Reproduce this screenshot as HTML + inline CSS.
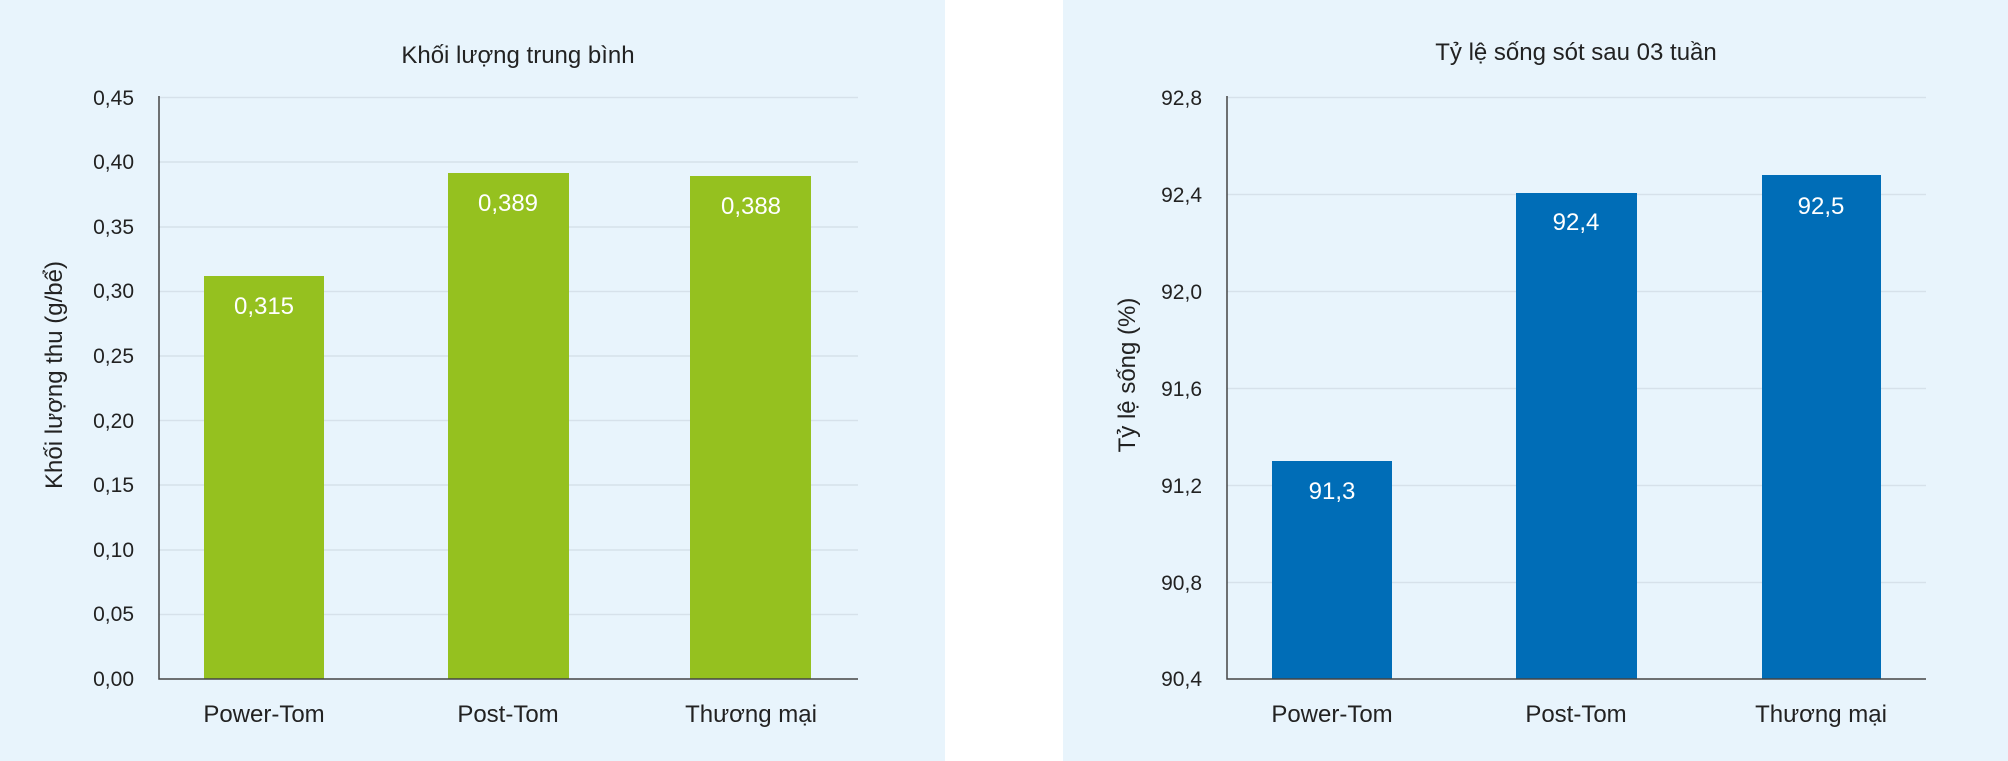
<!DOCTYPE html>
<html><head><meta charset="utf-8"><style>
html,body{margin:0;padding:0;background:#fff;overflow:hidden;}
svg{display:block;font-family:"Liberation Sans",sans-serif;}
</style></head><body>
<svg width="2008" height="761" viewBox="0 0 2008 761">
<rect x="0" y="0" width="945" height="761" fill="#e8f4fc"/>
<rect x="1063" y="0" width="945" height="761" fill="#e8f4fc"/>
<g stroke="#d6e1ea" stroke-width="1.5">
<line x1="159" x2="858" y1="97.5" y2="97.5"/><line x1="159" x2="858" y1="162" y2="162"/>
<line x1="159" x2="858" y1="227" y2="227"/><line x1="159" x2="858" y1="291.5" y2="291.5"/>
<line x1="159" x2="858" y1="356" y2="356"/><line x1="159" x2="858" y1="420.5" y2="420.5"/>
<line x1="159" x2="858" y1="485" y2="485"/><line x1="159" x2="858" y1="550" y2="550"/>
<line x1="159" x2="858" y1="614.5" y2="614.5"/>
<line x1="1227" x2="1926" y1="97.5" y2="97.5"/><line x1="1227" x2="1926" y1="194.5" y2="194.5"/>
<line x1="1227" x2="1926" y1="291.5" y2="291.5"/><line x1="1227" x2="1926" y1="388.5" y2="388.5"/>
<line x1="1227" x2="1926" y1="485.5" y2="485.5"/><line x1="1227" x2="1926" y1="582.5" y2="582.5"/>
</g>
<g fill="#95c11f">
<rect x="204" y="276" width="120" height="403"/>
<rect x="448" y="173" width="121" height="506"/>
<rect x="690" y="176" width="121" height="503"/>
</g>
<g fill="#006db7">
<rect x="1272" y="461" width="120" height="218"/>
<rect x="1516" y="193" width="121" height="486"/>
<rect x="1762" y="175" width="119" height="504"/>
</g>
<g stroke="#444" stroke-width="1.5" fill="none">
<path d="M159 96V679H858"/>
<path d="M1227 96V679H1926"/>
</g>
<g font-size="21" fill="#222" text-anchor="end">
<text x="134" y="105">0,45</text><text x="134" y="169">0,40</text><text x="134" y="234">0,35</text>
<text x="134" y="298">0,30</text><text x="134" y="363">0,25</text><text x="134" y="428">0,20</text>
<text x="134" y="492">0,15</text><text x="134" y="557">0,10</text><text x="134" y="621">0,05</text>
<text x="134" y="686">0,00</text>
<text x="1202" y="105">92,8</text><text x="1202" y="202">92,4</text><text x="1202" y="299">92,0</text>
<text x="1202" y="396">91,6</text><text x="1202" y="493">91,2</text><text x="1202" y="590">90,8</text>
<text x="1202" y="686">90,4</text>
</g>
<g font-size="24" fill="#222" text-anchor="middle">
<text x="518" y="63">Khối lượng trung bình</text>
<text x="1576" y="60">Tỷ lệ sống sót sau 03 tuần</text>
<text x="264" y="722">Power-Tom</text><text x="508" y="722">Post-Tom</text><text x="751" y="722">Thương mại</text>
<text x="1332" y="722">Power-Tom</text><text x="1576" y="722">Post-Tom</text><text x="1821" y="722">Thương mại</text>
<text transform="translate(62,375) rotate(-90)">Khối lượng thu (g/bể)</text>
<text transform="translate(1135,375) rotate(-90)">Tỷ lệ sống (%)</text>
</g>
<g font-size="24" fill="#fff" text-anchor="middle">
<text x="264" y="314">0,315</text><text x="508" y="211">0,389</text><text x="751" y="214">0,388</text>
<text x="1332" y="499">91,3</text><text x="1576" y="230">92,4</text><text x="1821" y="214">92,5</text>
</g>
</svg>
</body></html>
